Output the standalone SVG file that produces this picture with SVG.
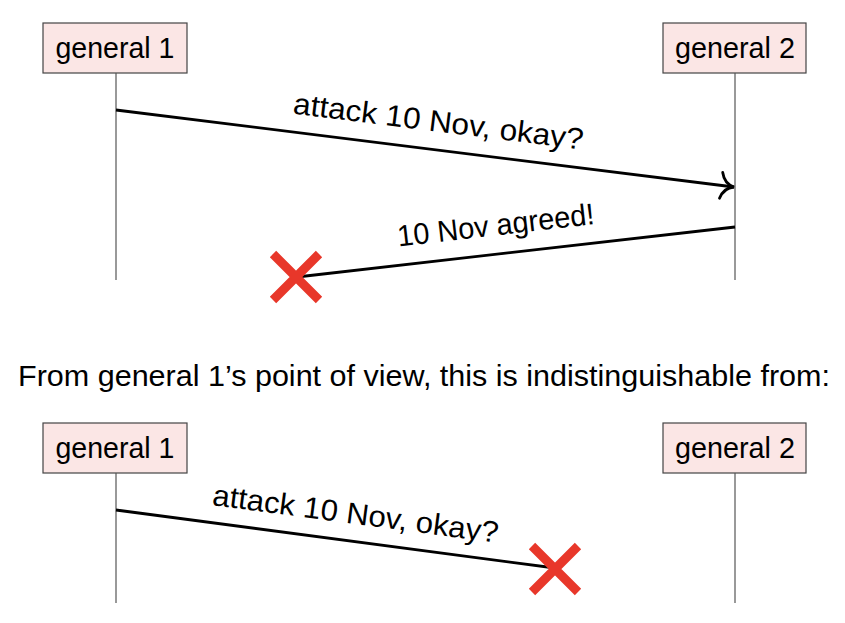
<svg xmlns="http://www.w3.org/2000/svg" width="845" height="623" viewBox="0 0 845 623">
<style>
.box{fill:#fbe6e5;stroke:#444;stroke-width:1.2}
.life{stroke:#555;stroke-width:1.2;fill:none}
.msg{stroke:#000;stroke-width:2.8;fill:none}
.t{font-family:"Liberation Sans",Arial,sans-serif;font-size:30px;fill:#000}
.x{stroke:#e8372a;stroke-width:9;fill:none;stroke-linecap:butt}
</style>
<defs>
<marker id="to" markerUnits="userSpaceOnUse" viewBox="-16 -15 20 30" refX="0" refY="0" markerWidth="20" markerHeight="30" orient="auto" overflow="visible">
<path d="M -13,-13 Q -10,-2 0,0 Q -10,2 -13,13" fill="none" stroke="#000" stroke-width="2.8" stroke-linecap="round"/>
</marker>
<g id="cross"><path class="x" d="M -23,-23 L 23,23 M 23,-23 L -23,23"/></g>
</defs>
<g id="top-general1">
<rect class="box" x="43" y="23" width="144" height="50"/>
<text class="t" x="115" y="58" text-anchor="middle" textLength="119" lengthAdjust="spacingAndGlyphs">general 1</text>
<line class="life" x1="116" y1="73" x2="116" y2="280"/>
</g>
<g id="top-general2">
<rect class="box" x="663" y="23" width="143" height="50"/>
<text class="t" x="735" y="58" text-anchor="middle" textLength="120" lengthAdjust="spacingAndGlyphs">general 2</text>
<line class="life" x1="735" y1="73" x2="735" y2="280"/>
</g>
<g id="top-connectors">
<line class="msg" x1="116" y1="110" x2="734" y2="187" marker-end="url(#to)"/>
<g transform="translate(435,149.7) rotate(7.09)"><text class="t" x="0" y="-18.3" text-anchor="middle" textLength="292" lengthAdjust="spacingAndGlyphs">attack 10 Nov, okay?</text></g>
<line class="msg" x1="735" y1="227" x2="297" y2="277"/>
<g transform="translate(499,254.1) rotate(-6.56)"><text class="t" x="0" y="-19" text-anchor="middle" textLength="198" lengthAdjust="spacingAndGlyphs">10 Nov agreed!</text></g>
<use href="#cross" x="296" y="277"/>
</g>
<text class="t" x="18" y="386" textLength="812" lengthAdjust="spacingAndGlyphs">From general 1’s point of view, this is indistinguishable from:</text>
<g id="bottom-general1">
<rect class="box" x="43" y="423" width="144" height="50"/>
<text class="t" x="115" y="458" text-anchor="middle" textLength="119" lengthAdjust="spacingAndGlyphs">general 1</text>
<line class="life" x1="116" y1="473" x2="116" y2="603"/>
</g>
<g id="bottom-general2">
<rect class="box" x="663" y="423" width="143" height="50"/>
<text class="t" x="735" y="458" text-anchor="middle" textLength="120" lengthAdjust="spacingAndGlyphs">general 2</text>
<line class="life" x1="735" y1="473" x2="735" y2="603"/>
</g>
<g id="bottom-connectors">
<line class="msg" x1="116" y1="510" x2="555" y2="568"/>
<g transform="translate(352,541.2) rotate(7.54)"><text class="t" x="0" y="-17.5" text-anchor="middle" textLength="288" lengthAdjust="spacingAndGlyphs">attack 10 Nov, okay?</text></g>
<use href="#cross" x="555" y="569"/>
</g>
</svg>
